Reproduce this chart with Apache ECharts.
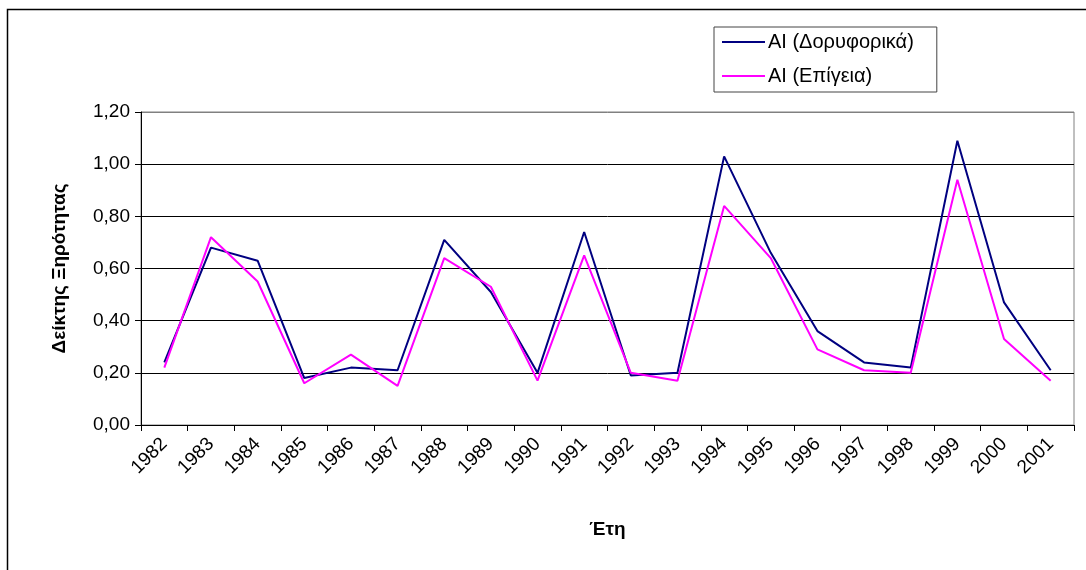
<!DOCTYPE html>
<html>
<head>
<meta charset="utf-8">
<script src="https://cdn.jsdelivr.net/npm/echarts@6/dist/echarts.min.js"></script>
<style>
  html, body { margin: 0; padding: 0; background: #fff; }
  #chart { width: 1086px; height: 570px; }
</style>
</head>
<body>
<div id="chart"></div>
<script>
// years on the x axis
var years = ['1982', '1983', '1984', '1985', '1986', '1987', '1988', '1989', '1990', '1991',
             '1992', '1993', '1994', '1995', '1996', '1997', '1998', '1999', '2000', '2001'];

// AI from satellite data
var aiSatellite = [0.24, 0.68, 0.63, 0.18, 0.22, 0.21, 0.71, 0.51, 0.20, 0.74,
                   0.19, 0.20, 1.03, 0.66, 0.36, 0.24, 0.22, 1.09, 0.47, 0.21];

// AI from ground stations
var aiGround = [0.22, 0.72, 0.55, 0.16, 0.27, 0.15, 0.64, 0.53, 0.17, 0.65,
                0.20, 0.17, 0.84, 0.64, 0.29, 0.21, 0.20, 0.94, 0.33, 0.17];

var seriesNames = ['AI (Δορυφορικά)', 'AI (Επίγεια)'];

var FONT = 'Liberation Sans';

var myChart = echarts.init(document.getElementById('chart'));

var option = {
    animation: false,
    backgroundColor: '#fff',
    textStyle: { fontFamily: FONT },
    graphic: [
        {
            // outer chart border
            type: 'rect',
            shape: { x: 7.5, y: 9.5, width: 1100, height: 600 },
            style: { fill: 'none', stroke: '#000', lineWidth: 1.5 },
            z: 100
        }
    ],
    legend: {
        orient: 'vertical',
        left: 714,
        top: 27,
        padding: [5, 23, 6, 8],
        itemGap: 14,
        itemWidth: 43,
        itemHeight: 20,
        icon: 'path://M0,9 L43,9 L43,11 L0,11 Z',
        borderColor: '#444',
        borderWidth: 1,
        backgroundColor: '#fff',
        textStyle: { fontFamily: FONT, fontSize: 20, color: '#000', padding: [0, 0, 0, -2] },
        data: seriesNames
    },
    grid: {
        left: 141,
        top: 112,
        right: 12,
        bottom: 145,
        show: true,
        borderColor: '#808080',
        borderWidth: 1
    },
    xAxis: {
        type: 'category',
        data: years,
        boundaryGap: true,
        name: 'Έτη',
        nameLocation: 'middle',
        nameGap: 95,
        nameTextStyle: { fontFamily: FONT, fontSize: 19, fontWeight: 'bold', color: '#000' },
        axisLine: { lineStyle: { color: '#000', width: 1 } },
        axisTick: { show: true, alignWithLabel: false, length: 6, lineStyle: { color: '#000' } },
        axisLabel: { rotate: 45, fontSize: 19, color: '#000', margin: 16, interval: 0 }
    },
    yAxis: {
        type: 'value',
        min: 0,
        max: 1.2,
        interval: 0.2,
        name: 'Δείκτης Ξηρότητας',
        nameLocation: 'middle',
        nameGap: 72,
        nameTextStyle: { fontFamily: FONT, fontSize: 19, fontWeight: 'bold', color: '#000' },
        axisLine: { show: true, lineStyle: { color: '#000', width: 1 } },
        axisTick: { show: true, length: 6, lineStyle: { color: '#000' } },
        axisLabel: {
            fontSize: 19,
            color: '#000',
            margin: 11,
            formatter: function (v) { return v.toFixed(2).replace('.', ','); }
        },
        splitLine: {
            show: true,
            lineStyle: { color: ['#000', '#000', '#000', '#000', '#000', '#000', '#808080'], width: 1 }
        }
    },
    series: [
        {
            name: seriesNames[0],
            type: 'line',
            data: aiSatellite,
            symbol: 'none',
            lineStyle: { color: '#000080', width: 2 },
            itemStyle: { color: '#000080' }
        },
        {
            name: seriesNames[1],
            type: 'line',
            data: aiGround,
            symbol: 'none',
            lineStyle: { color: '#ff00ff', width: 2 },
            itemStyle: { color: '#ff00ff' }
        }
    ]
};

myChart.setOption(option);
</script>
</body>
</html>
